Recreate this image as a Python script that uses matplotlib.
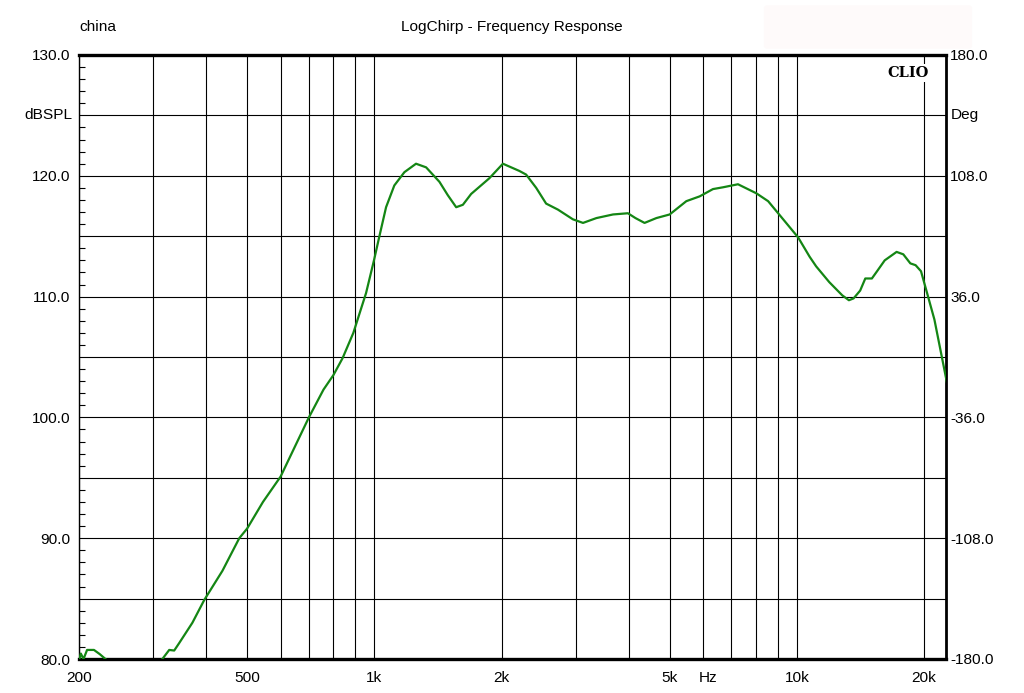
import numpy as np
import matplotlib
matplotlib.use("Agg")
import matplotlib.pyplot as plt
from matplotlib import font_manager
from matplotlib.ticker import FixedLocator, NullFormatter, MultipleLocator
from matplotlib.patches import FancyBboxPatch

# ---------------- data ----------------
freq_hz = [200, 202, 205, 209, 217, 224, 231, 240, 270, 300, 315, 327, 336, 345,
           371, 396, 437, 479, 500, 545, 600, 647, 700, 758, 800, 841, 892, 956,
           998, 1028, 1066, 1115, 1178, 1255, 1326, 1426, 1492, 1562, 1620, 1695,
           1872, 2015, 2205, 2287, 2416, 2550, 2720, 2950, 3118, 3354, 3672, 3982,
           4150, 4360, 4650, 5000, 5475, 5890, 6330, 6690, 7255, 8020, 8550, 9030,
           10070, 10720, 11110, 11930, 12810, 13280, 13620, 14120, 14520, 15050,
           15480, 16140, 17220, 17860, 18560, 19100, 19670, 20330, 21160, 21950,
           22680]
spl_db = [79.9, 80.45, 80.0, 80.75, 80.75, 80.4, 80.0, 79.4, 78.6, 79.3, 80.0, 80.75,
          80.7, 81.3, 83.0, 84.9, 87.3, 90.0, 90.8, 93.0, 95.1, 97.5, 100.0, 102.3,
          103.5, 104.9, 107.0, 110.3, 113.0, 115.0, 117.4, 119.2, 120.3, 121.0,
          120.7, 119.5, 118.4, 117.4, 117.6, 118.5, 119.8, 121.0, 120.4, 120.1,
          119.0, 117.7, 117.2, 116.4, 116.1, 116.5, 116.8, 116.9, 116.5, 116.1,
          116.5, 116.8, 117.9, 118.3, 118.9, 119.05, 119.3, 118.55, 117.9, 116.9,
          114.9, 113.3, 112.5, 111.2, 110.1, 109.7, 109.85, 110.5, 111.5, 111.5,
          112.1, 113.0, 113.7, 113.5, 112.75, 112.6, 112.1, 110.3, 108.1, 105.3,
          102.8]

x_major = [200, 500, 1000, 2000, 5000, 10000, 20000]
x_major_labels = ["200", "500", "1k", "2k", "5k", "10k", "20k"]
x_grid = [300, 400, 600, 700, 800, 900, 3000, 4000, 6000, 7000, 8000, 9000]
y_ticks = [80, 90, 100, 110, 120, 130]
deg_ticks = [-180, -108, -36, 36, 108, 180]

title = "LogChirp - Frequency Response"
left_note = "china"


def has_font(name):
    try:
        font_manager.findfont(name, fallback_to_default=False)
        return True
    except Exception:
        return False


FONT = "Liberation Sans Narrow" if has_font("Liberation Sans Narrow") else "Liberation Sans"
FS = 12.5 if FONT == "Liberation Sans Narrow" else 11.1
plt.rcParams["font.family"] = [FONT, "DejaVu Sans"]

W, H = 1024, 693
fig = plt.figure(figsize=(W / 100, H / 100), dpi=100, facecolor="white")

# very faint watermark area top right
fig.patches.append(FancyBboxPatch((768 / W, 1 - 46 / H), 200 / W, 38 / H,
                                  boxstyle="round,pad=0.004", transform=fig.transFigure,
                                  facecolor="#fefafa", edgecolor="none", zorder=0))

L, R, T, B = 79, 946, 55, 659
ax = fig.add_axes([L / W, 1 - B / H, (R - L) / W, (B - T) / H])
ax.set_xscale("log")
ax.set_xlim(200, 22540)
ax.set_ylim(80, 130)

ax.plot(freq_hz, spl_db, color="#148614", lw=1.6, zorder=4, clip_on=True,
        solid_joinstyle="round", solid_capstyle="round")

# grid
ax.xaxis.set_major_locator(FixedLocator(x_major))
ax.xaxis.set_minor_locator(FixedLocator(x_grid))
ax.xaxis.set_minor_formatter(NullFormatter())
ax.set_xticklabels(x_major_labels, fontsize=FS)
ax.yaxis.set_minor_locator(MultipleLocator(1))
ax.set_yticks(np.arange(80, 131, 5))
ax.set_yticklabels([f"{v:.1f}" if v in y_ticks else "" for v in np.arange(80, 131, 5)],
                   fontsize=FS)
ax.grid(which="major", color="black", lw=0.8)
ax.grid(which="minor", axis="x", color="black", lw=0.8)
ax.set_axisbelow(True)

ax.tick_params(axis="x", which="both", length=0, pad=9)
ax.tick_params(axis="y", which="major", length=0, pad=6)
ax.tick_params(axis="y", which="minor", direction="in", length=4, width=0.8,
               left=True, right=True)

for side in ("top", "bottom"):
    ax.spines[side].set_linewidth(2.4)
ax.spines["right"].set_linewidth(2.0)
ax.spines["left"].set_linewidth(1.0)

# right axis in degrees
ax2 = ax.twinx()
ax2.set_ylim(-180, 180)
ax2.set_yticks(deg_ticks)
ax2.set_yticklabels([f"{v:.1f}" for v in deg_ticks], fontsize=FS)
ax2.tick_params(axis="y", length=0, pad=3)
for s in ax2.spines.values():
    s.set_visible(False)

# axis labels
ax.text(-0.008, 125, "dBSPL", transform=ax.get_yaxis_transform(), ha="right",
        va="center", fontsize=FS)
ax.text(1.005, 125, "Deg", transform=ax.get_yaxis_transform(), ha="left",
        va="center", fontsize=FS)
ax.text(6150, -0.031, "Hz", transform=ax.get_xaxis_transform(), ha="center",
        va="center", fontsize=FS)

# CLIO logo
ax.text(0.980, 0.982, "CLIO", transform=ax.transAxes, ha="right", va="top",
        fontsize=10.5, fontweight="bold", family="DejaVu Serif", zorder=5,
        bbox=dict(facecolor="white", edgecolor="none", pad=1.5))

# titles
fig.text(0.5, 1 - 27 / H, title, ha="center", va="center", fontsize=FS)
fig.text(L / W, 1 - 27 / H, left_note, ha="left", va="center", fontsize=FS)

fig.savefig("out.png", dpi=100, facecolor="white")
